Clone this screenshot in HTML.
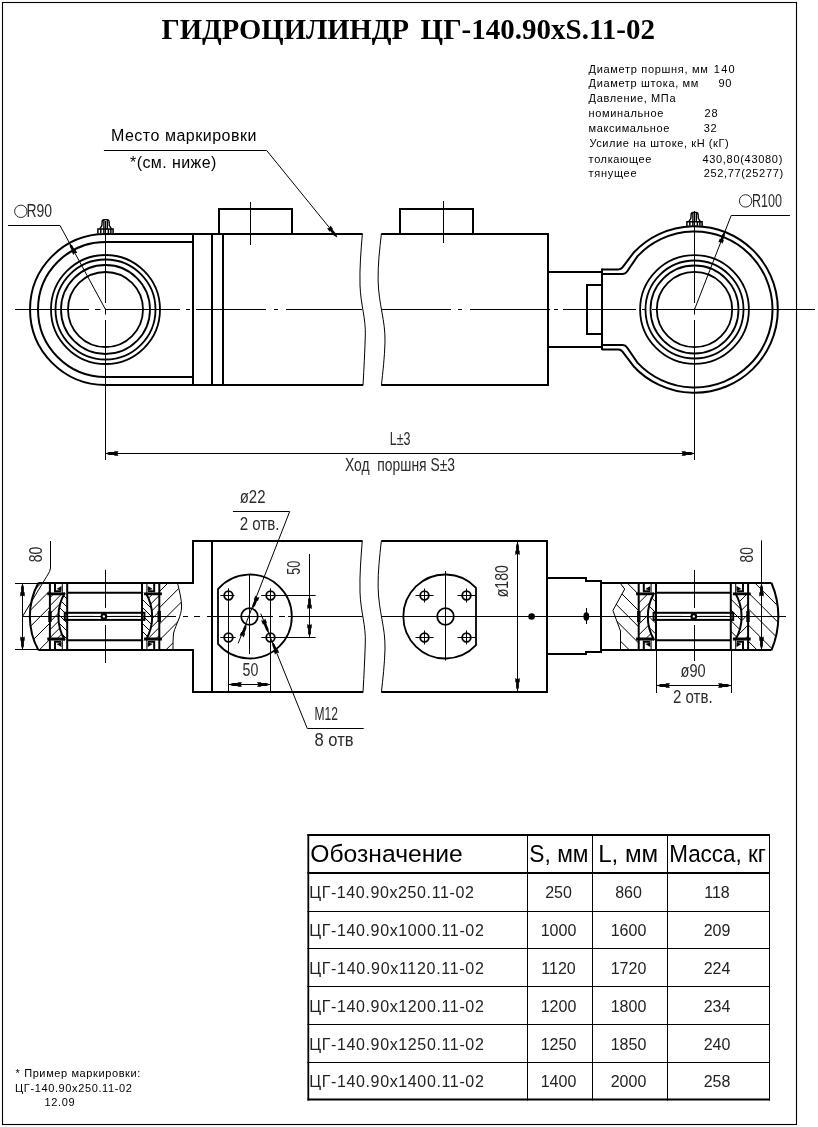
<!DOCTYPE html>
<html lang="ru">
<head>
<meta charset="utf-8">
<title>Гидроцилиндр ЦГ-140.90xS.11-02</title>
<style>
html,body{margin:0;padding:0;background:#fff;}
body{width:818px;height:1127px;overflow:hidden;font-family:"Liberation Sans",sans-serif;}
svg{display:block;position:absolute;left:0;top:0;will-change:transform;}
text{font-family:"Liberation Sans",sans-serif;fill:#000;}
.ttl{font-family:"Liberation Serif",serif;font-weight:bold;font-size:29px;}
.k{stroke:#000;stroke-width:2;fill:none;stroke-linecap:butt;stroke-linejoin:miter;}
.c{stroke:#000;stroke-width:1.8;fill:none;}
.n{stroke:#000;stroke-width:1;fill:none;}
.cl{stroke:#000;stroke-width:1;fill:none;}
.g{font-size:18px;fill:#2a2a2a;}
.sp{font-size:11px;}
.td{font-size:16px;fill:#222;}
.th{font-size:24.5px;}
.ar{fill:#000;stroke:none;}
</style>
</head>
<body>
<svg width="818" height="1127" viewBox="0 0 818 1127">
<rect x="0" y="0" width="818" height="1127" fill="#fff"/>
<!-- FRAME -->
<rect x="2.5" y="2.5" width="794" height="1122" fill="none" stroke="#000" stroke-width="1.1"/>

<!-- TITLE -->
<g id="title">
<text class="ttl" x="161.5" y="38.5" textLength="247.6" lengthAdjust="spacingAndGlyphs">ГИДРОЦИЛИНДР</text>
<text class="ttl" x="420.6" y="38.5" textLength="234.4" lengthAdjust="spacingAndGlyphs">ЦГ-140.90xS.11-02</text>
</g>

<!-- SPECS -->
<g id="specs">
<text class="sp" x="588.6" y="72.5" textLength="119.2" lengthAdjust="spacing">Диаметр поршня, мм</text>
<text class="sp" x="713.7" y="72.5" textLength="21" lengthAdjust="spacing">140</text>
<text class="sp" x="588.6" y="87.3" textLength="109.7" lengthAdjust="spacing">Диаметр штока, мм</text>
<text class="sp" x="718.5" y="87.3" textLength="12.9" lengthAdjust="spacing">90</text>
<text class="sp" x="588.6" y="102.0" textLength="86.9" lengthAdjust="spacing">Давление, МПа</text>
<text class="sp" x="588.6" y="116.9" textLength="74.8" lengthAdjust="spacing">номинальное</text>
<text class="sp" x="704.5" y="116.9" textLength="13.2" lengthAdjust="spacing">28</text>
<text class="sp" x="588.6" y="131.7" textLength="80.7" lengthAdjust="spacing">максимальное</text>
<text class="sp" x="703.7" y="131.7" textLength="12.9" lengthAdjust="spacing">32</text>
<text class="sp" x="589.4" y="147.0" textLength="139.3" lengthAdjust="spacing">Усилие на штоке, кН (кГ)</text>
<text class="sp" x="588.6" y="162.6" textLength="62.7" lengthAdjust="spacing">толкающее</text>
<text class="sp" x="702.4" y="162.6" textLength="79.9" lengthAdjust="spacing">430,80(43080)</text>
<text class="sp" x="588.6" y="177.4" textLength="47.9" lengthAdjust="spacing">тянущее</text>
<text class="sp" x="703.7" y="177.4" textLength="79.4" lengthAdjust="spacing">252,77(25277)</text>
</g>

<!-- MARKING LABEL -->
<g id="marklabel">
<text x="110.9" y="141.1" font-size="16" fill="#222" textLength="145.6" lengthAdjust="spacing">Место маркировки</text>
<text x="130" y="168.4" font-size="16" fill="#222" textLength="86.4" lengthAdjust="spacing">*(см. ниже)</text>
<path class="n" d="M103.9,150.5 H266.7 L337,237"/>
<path class="ar" d="M337.2,237.4 L336.0,233.7 L332.5,229.4 L333.1,228.9 L330.4,225.5 L329.5,228.0 L327.0,228.3 L329.7,231.7 L330.4,231.1 L333.8,235.4 Z"/>
</g>

<!-- TOP VIEW -->
<g id="topview">
<path class="cl" d="M15,309.5 H89 M95,309.5 H100.5 M105,309.5 H180 M186,309.5 H190 M196,309.5 H266 M274,309.5 H278 M286,309.5 H362 M381.5,309.5 H451 M458,309.5 H462 M470,309.5 H550 M554,309.5 H558 M563,309.5 H636 M642,309.5 H646 M652,309.5 H815"/>
<path class="cl" d="M105.5,221 V303 M105.5,308.5 V314.5 M105.5,320 V460 M694.5,211 V303 M694.5,308.5 V314.5 M694.5,320 V460"/>
<path class="cl" d="M250.5,202 V245 M443.5,201 V243"/>
<path class="k" d="M193,234 H105.5 A75.5,75.5 0 0 0 105.5,385 H193"/>
<path class="k" d="M193,242 H105.5 A67.5,67.5 0 0 0 105.5,377 H193"/>
<circle class="c" cx="105.5" cy="309.5" r="54.5"/>
<circle class="c" cx="105.5" cy="309.5" r="50"/>
<circle class="c" cx="105.5" cy="309.5" r="44.5"/>
<circle class="c" cx="105.5" cy="309.5" r="37.5"/>
<g id="nip" class="k">
<path stroke-width="1.5" d="M97.9,233.4 V228.9 H113.1 V233.4 M100.8,228.9 V233 M103.9,228.9 V233 M108.4,228.9 V233 M110.9,228.9 V233"/>
<path stroke-width="1.4" d="M99.8,228.9 L101.9,225.6 L102.1,221.8 Q102.3,219.6 103.9,219.6 H107.3 Q108.9,219.6 109.1,221.8 L109.3,225.6 L111.4,228.9 M103.9,220.2 V228.9 M107.3,220.2 V228.9"/>
</g>
<path class="k" d="M193,233 V386 M212,234 V385 M223,234 V385"/>
<path class="k" d="M192,234 H362.4 M192,385 H363"/>
<path class="k" d="M219,234 V209 M218,209 H293 M292,209 V234"/>
<path class="n" stroke-width="1.15" d="M362.4,233.5 C361,250 359.5,268 360,285 C360.6,305 366,318 365.3,336 C364.8,352 364,368 363,385.5"/>
<path class="n" stroke-width="1.15" d="M381.4,233.5 C379.6,250 377.8,265 378.1,280 C378.6,305 385.5,320 385,342 C384.6,358 382.8,372 381.4,385.5"/>
<path class="k" d="M381.4,234 H549 M548,234 V385 M549,385 H381.4"/>
<path class="k" d="M400,234 V209 M399,209 H474 M473,209 V234"/>
<path class="k" d="M548,272 H602 M548,347 H602"/>
<path class="k" d="M602,285 H587 M587,284 V335 M587,334 H602"/>
<path class="k" d="M602,268.5 V350"/>
<path class="k" stroke-width="1.9" d="M602,269.5 H618.3 Q620.9,269.5 622.5,267.4 L633.5,252.8 A83.3,83.3 0 1 1 633.5,366.2 L622.5,351.6 Q620.9,349.5 618.3,349.5 H602"/>
<path class="k" stroke-width="1.9" d="M602,274 H622.8 Q625.4,274 626.9,271.8 L637.4,256.4 A78,78 0 1 1 637.4,362.6 L626.9,347.2 Q625.4,345.0 622.8,345.0 H602"/>
<circle class="c" cx="694.5" cy="309.5" r="54.4"/>
<circle class="c" cx="694.5" cy="309.5" r="49"/>
<circle class="c" cx="694.5" cy="309.5" r="44"/>
<circle class="c" cx="694.5" cy="309.5" r="37.7"/>
<use href="#nip" transform="translate(589.0,-7.2)"/>
<path class="n" d="M8,225.5 H60 L105.5,309.5"/>
<path class="ar" d="M69.6,243.4 L69.9,246.9 L72.3,251.2 L71.6,251.6 L73.4,255.0 L74.8,252.9 L77.3,252.9 L75.4,249.5 L74.7,249.9 L72.3,245.6 Z"/>
<circle cx="20.8" cy="211.3" r="6.2" fill="none" stroke="#2a2a2a" stroke-width="1"/>
<text class="g" x="26.4" y="216.9" font-size="16.5" textLength="25.6" lengthAdjust="spacingAndGlyphs">R90</text>
<path class="n" d="M789.9,215.5 H731.2 L694.5,309.5"/>
<path class="ar" d="M724.8,231.8 L722.4,234.3 L720.6,238.9 L719.8,238.6 L718.4,242.2 L720.9,241.9 L722.5,243.8 L723.9,240.2 L723.1,239.9 L724.9,235.3 Z"/>
<circle cx="745.6" cy="200.9" r="6.2" fill="none" stroke="#2a2a2a" stroke-width="1"/>
<text class="g" x="752" y="206.8" font-size="16.5" textLength="30" lengthAdjust="spacingAndGlyphs">R100</text>
<path class="n" d="M105.5,453.5 H694.5"/>
<path class="ar" d="M105.5,453.5 L109.0,454.9 L114.3,454.9 L114.3,455.7 L118.5,455.7 L117.2,453.5 L118.5,451.3 L114.3,451.3 L114.3,452.1 L109.0,452.1 Z M694.5,453.5 L691.0,452.1 L685.7,452.1 L685.7,451.3 L681.5,451.3 L682.8,453.5 L681.5,455.7 L685.7,455.7 L685.7,454.9 L691.0,454.9 Z"/>
<text class="g" x="389.7" y="445" font-size="19" textLength="20.8" lengthAdjust="spacingAndGlyphs">L±3</text>
<text class="g" x="345" y="471.3" textLength="110" lengthAdjust="spacingAndGlyphs" xml:space="preserve">Ход  поршня S±3</text>
</g>

<!-- BOTTOM VIEW -->
<g id="bottomview">
<path class="cl" d="M22,616.5 H176 M183,616.5 H188 M194,616.5 H200 M207,616.5 H273 M279,616.5 H285 M288,616.5 H362.5 M381.5,616.5 H786"/>
<path class="cl" d="M105.5,569.8 V607.9 M105.5,624.9 V663 M694.5,570 V608 M694.5,625 V661"/>
<clipPath id="cbL"><path d="M38.3,583 A70.6,70.6 0 0 0 38.3,650 H49.89999999999999 V583 Z"/></clipPath>
<clipPath id="cbL2"><path d="M159.3,583 H177.5 C179.2,590 181.8,600 181.6,607 C181.4,616 176,624 173.6,633 C173,638 173,644 173,650 H159.3 Z"/></clipPath>
<path d="M28.00,596.40 L49.90,574.50 M28.00,612.60 L49.90,590.70 M28.00,628.80 L49.90,606.90 M28.00,645.00 L49.90,623.10 M28.00,661.20 L49.90,639.30" stroke="#000" stroke-width="1.0" fill="none" clip-path="url(#cbL)"/>
<path d="M159.30,591.70 L183.00,568.00 M159.30,607.90 L183.00,584.20 M159.30,624.10 L183.00,600.40 M159.30,640.30 L183.00,616.60 M159.30,656.50 L183.00,632.80 M159.30,672.70 L183.00,649.00" stroke="#000" stroke-width="1.0" fill="none" clip-path="url(#cbL2)"/>
<path class="n" d="M177.5,583 C179.2,590 181.8,600 181.6,607 C181.4,616 176,624 173.6,633 C173,638 173,644 173,650"/>
<path class="k" d="M38.3,583 H194 M38.3,650 H194"/>
<path class="k" stroke-width="1.9" d="M38.3,583 A70.6,70.6 0 0 0 38.3,650"/>
<clipPath id="coLa"><path d="M49.90,592.7 L64.89,592.7 A46.9,46.9 0 0 0 64.83,640.2 L49.90,640.2 Z"/></clipPath>
<clipPath id="ciLa"><path d="M67.20,592.7 L64.89,592.7 A46.9,46.9 0 0 0 64.83,640.2 L67.20,640.2 Z"/></clipPath>
<clipPath id="coRa"><path d="M159.30,592.7 L145.71,592.7 A46.9,46.9 0 0 1 145.77,640.2 L159.30,640.2 Z"/></clipPath>
<clipPath id="ciRa"><path d="M142.00,592.7 L145.71,592.7 A46.9,46.9 0 0 1 145.77,640.2 L142.00,640.2 Z"/></clipPath>
<path d="M49.90,597.80 L67.20,580.50 M49.90,605.80 L67.20,588.50 M49.90,613.80 L67.20,596.50 M49.90,621.80 L67.20,604.50 M49.90,629.80 L67.20,612.50 M49.90,637.80 L67.20,620.50 M49.90,645.80 L67.20,628.50 M49.90,653.80 L67.20,636.50" stroke="#000" stroke-width="1.0" fill="none" clip-path="url(#coLa)"/>
<path d="M49.90,637.90 L67.20,655.20 M49.90,629.90 L67.20,647.20 M49.90,621.90 L67.20,639.20 M49.90,613.90 L67.20,631.20 M49.90,605.90 L67.20,623.20 M49.90,597.90 L67.20,615.20 M49.90,589.90 L67.20,607.20 M49.90,581.90 L67.20,599.20" stroke="#000" stroke-width="1.0" fill="none" clip-path="url(#ciLa)"/>
<path d="M142.00,596.70 L159.30,579.40 M142.00,604.70 L159.30,587.40 M142.00,612.70 L159.30,595.40 M142.00,620.70 L159.30,603.40 M142.00,628.70 L159.30,611.40 M142.00,636.70 L159.30,619.40 M142.00,644.70 L159.30,627.40 M142.00,652.70 L159.30,635.40" stroke="#000" stroke-width="1.0" fill="none" clip-path="url(#coRa)"/>
<path d="M142.00,639.00 L159.30,656.30 M142.00,631.00 L159.30,648.30 M142.00,623.00 L159.30,640.30 M142.00,615.00 L159.30,632.30 M142.00,607.00 L159.30,624.30 M142.00,599.00 L159.30,616.30 M142.00,591.00 L159.30,608.30 M142.00,583.00 L159.30,600.30" stroke="#000" stroke-width="1.0" fill="none" clip-path="url(#ciRa)"/>
<path class="k" stroke-width="1.9" d="M49.90,583 V650 M159.30,583 V650 M67.20,583 V650 M142.00,583 V650"/>
<path class="k" stroke-width="1.5" d="M64.89,592.7 A46.9,46.9 0 0 0 64.83,640.2 M145.71,592.7 A46.9,46.9 0 0 1 145.77,640.2"/>
<path class="k" stroke-width="1.8" d="M67.20,592.7 H142.00 M67.20,640.2 H142.00"/>
<path d="M47.30,592.40 H65.10 V595.30 H47.30 Z M47.30,640.50 H65.10 V637.60 H47.30 Z M161.90,592.40 H144.10 V595.30 H161.90 Z M161.90,640.50 H144.10 V637.60 H161.90 Z" fill="#000"/>
<path class="k" stroke-width="1.5" d="M55.00,583 V591.20 H61.20"/>
<path class="n" d="M62.30,583 V592.80"/>
<path d="M56.50,589.00 L61.50,586.00 L61.50,590.70 Z" fill="#000"/>
<path class="k" stroke-width="1.5" d="M55.00,650 V641.80 H61.20"/>
<path class="n" d="M62.30,650 V640.20"/>
<path d="M56.50,644.00 L61.50,647.00 L61.50,642.30 Z" fill="#000"/>
<path class="k" stroke-width="1.5" d="M154.20,583 V591.20 H148.00"/>
<path class="n" d="M146.90,583 V592.80"/>
<path d="M152.70,589.00 L147.70,586.00 L147.70,590.70 Z" fill="#000"/>
<path class="k" stroke-width="1.5" d="M154.20,650 V641.80 H148.00"/>
<path class="n" d="M146.90,650 V640.20"/>
<path d="M152.70,644.00 L147.70,647.00 L147.70,642.30 Z" fill="#000"/>
<rect class="k" x="64.80" y="612.8" width="79.6" height="7.1" fill="#fff" stroke-width="1.7"/>
<path class="n" d="M71.20,616.4 H93.60 M110.60,616.4 H138.00" stroke-width="0.9"/>
<circle cx="103.90" cy="616.4" r="2.3" fill="#fff" stroke="#000" stroke-width="2.2"/>
<rect x="48.30" y="611" width="3.4" height="11" fill="#000"/><rect x="157.50" y="611" width="3.4" height="11" fill="#000"/>
<path class="n" d="M15,583.5 H38.3 M15,649.5 H38.3 M22.5,583 V650 M22.5,616.5 L46.6,576.6 Q50.5,571 50.5,568 V541"/>
<path class="ar" d="M22.5,583.5 L21.1,587.0 L21.1,592.3 L20.3,592.3 L20.3,596.5 L22.5,595.2 L24.7,596.5 L24.7,592.3 L23.9,592.3 L23.9,587.0 Z M22.5,649.5 L23.9,646.0 L23.9,640.7 L24.7,640.7 L24.7,636.5 L22.5,637.8 L20.3,636.5 L20.3,640.7 L21.1,640.7 L21.1,646.0 Z"/>
<text class="g" font-size="17" transform="translate(42.4,562.3) rotate(-90)" textLength="15.5" lengthAdjust="spacingAndGlyphs">80</text>
<path class="k" d="M193,584 V540 M192,541 H362.3 M193,649 V693 M192,692 H363 M212,541 V692"/>
<path class="n" stroke-width="1.15" d="M362.3,540.5 C361,557 359.5,575 360,592 C360.6,612 366,625 365.3,643 C364.8,659 364,675 363,692.5"/>
<path class="n" stroke-width="1.15" d="M381.4,540.5 C379.6,557 377.8,572 378.1,587 C378.6,612 385.5,627 385,649 C384.6,665 382.8,679 381.4,692.5"/>
<path class="k" d="M381.4,541 H548 M547,540 V693 M548,692 H381.4"/>
<path class="c" d="M218,589.1 A42,42 0 1 1 218,643.9 Z"/>
<circle class="c" cx="228.5" cy="595.5" r="4.3"/>
<circle class="c" cx="270.5" cy="595.5" r="4.3"/>
<circle class="c" cx="228.5" cy="637.5" r="4.3"/>
<circle class="c" cx="270.5" cy="637.5" r="4.3"/>
<circle class="c" cx="249.5" cy="616.5" r="8.3"/>
<path class="cl" d="M249.5,574.8 V654 M228.5,588.3 V691 M270.5,588.3 V691 M220.3,595.5 H234.5 M261.3,595.5 H315.6 M220.3,637.5 H235.7 M261.3,637.5 H315.6"/>
<path class="n" d="M228.5,684.5 H270.5"/>
<path class="ar" d="M229.0,684.5 L232.5,685.9 L237.8,685.9 L237.8,686.7 L242.0,686.7 L240.7,684.5 L242.0,682.3 L237.8,682.3 L237.8,683.1 L232.5,683.1 Z M270.0,684.5 L266.5,683.1 L261.2,683.1 L261.2,682.3 L257.0,682.3 L258.3,684.5 L257.0,686.7 L261.2,686.7 L261.2,685.9 L266.5,685.9 Z"/>
<text class="g" font-size="16.5" x="242.6" y="676" textLength="15.8" lengthAdjust="spacingAndGlyphs">50</text>
<path class="n" d="M309.5,554 V637.5"/>
<path class="ar" d="M309.5,596.0 L308.1,599.5 L308.1,604.8 L307.3,604.8 L307.3,609.0 L309.5,607.7 L311.7,609.0 L311.7,604.8 L310.9,604.8 L310.9,599.5 Z M309.5,637.0 L310.9,633.5 L310.9,628.2 L311.7,628.2 L311.7,624.0 L309.5,625.3 L307.3,624.0 L307.3,628.2 L308.1,628.2 L308.1,633.5 Z"/>
<text class="g" font-size="16.5" transform="translate(299.7,574.7) rotate(-90)" textLength="14" lengthAdjust="spacingAndGlyphs">50</text>
<path class="n" d="M233,511.5 H289.7 L238.2,643.3"/>
<path class="ar" d="M252.6,608.5 L255.1,605.7 L257.1,600.7 L257.9,601.0 L259.4,597.2 L256.8,597.6 L255.3,595.6 L253.8,599.4 L254.5,599.7 L252.6,604.7 Z M246.4,624.5 L243.9,627.3 L241.9,632.3 L241.1,632.0 L239.6,635.8 L242.2,635.4 L243.7,637.4 L245.2,633.6 L244.5,633.3 L246.4,628.3 Z"/>
<text class="g" font-size="16.5" x="239.7" y="502.9" textLength="25.8" lengthAdjust="spacingAndGlyphs">ø22</text>
<text class="g" font-size="16.5" x="239.7" y="529.8" textLength="39.8" lengthAdjust="spacingAndGlyphs">2 отв.</text>
<path class="n" d="M260.8,613.7 L307.3,728.5 H363.7"/>
<path class="ar" d="M268.8,633.2 L268.5,629.0 L266.2,623.3 L267.0,623.0 L265.2,618.5 L263.7,620.7 L261.1,620.2 L262.9,624.6 L263.7,624.3 L266.0,630.0 Z M272.2,641.8 L272.3,645.5 L274.3,650.5 L273.5,650.8 L275.1,654.6 L276.6,652.6 L279.2,653.0 L277.6,649.1 L276.8,649.4 L274.8,644.5 Z"/>
<text class="g" font-size="17" x="314.5" y="720" textLength="23.5" lengthAdjust="spacingAndGlyphs">M12</text>
<text class="g" font-size="17" x="314.5" y="746" textLength="39" lengthAdjust="spacingAndGlyphs">8 отв</text>
<path class="c" d="M476,587.8 A42,42 0 1 0 476,645.2 Z"/>
<circle class="c" cx="424.5" cy="595.5" r="4.3"/>
<path class="cl" d="M415.5,595.5 H433.5 M424.5,588.5 V602.5"/>
<circle class="c" cx="466.5" cy="595.5" r="4.3"/>
<path class="cl" d="M457.5,595.5 H475.5 M466.5,588.5 V602.5"/>
<circle class="c" cx="424.5" cy="637.5" r="4.3"/>
<path class="cl" d="M415.5,637.5 H433.5 M424.5,630.5 V644.5"/>
<circle class="c" cx="466.5" cy="637.5" r="4.3"/>
<path class="cl" d="M457.5,637.5 H475.5 M466.5,630.5 V644.5"/>
<circle class="c" cx="445.5" cy="616.5" r="8.3"/>
<path class="cl" d="M445.5,571 V660.6"/>
<path class="n" d="M517.5,541 V692"/>
<path class="ar" d="M517.5,542.0 L516.1,545.5 L516.1,550.8 L515.3,550.8 L515.3,555.0 L517.5,553.7 L519.7,555.0 L519.7,550.8 L518.9,550.8 L518.9,545.5 Z M517.5,691.0 L518.9,687.5 L518.9,682.2 L519.7,682.2 L519.7,678.0 L517.5,679.3 L515.3,678.0 L515.3,682.2 L516.1,682.2 L516.1,687.5 Z"/>
<text class="g" font-size="17" transform="translate(508.3,597.3) rotate(-90)" textLength="32.3" lengthAdjust="spacingAndGlyphs">ø180</text>
<circle cx="531.6" cy="616.5" r="3.3" fill="#000"/>
<ellipse cx="586.3" cy="616.5" rx="2.9" ry="4.2" fill="#000"/><path class="n" d="M586.5,608 V624"/>
<path class="k" d="M547,578 H586 V581 H602 M601,580 V653 M602,652 H586 V654 H547"/>
<clipPath id="cbR"><path d="M620,583 L624.7,589 L612.9,610.5 L620.5,631 V650 H638.6999999999999 V583 Z"/></clipPath>
<clipPath id="cbR2"><path d="M748.1,583 H771.5 A85.4,85.4 0 0 1 771.5,650 H748.1 Z"/></clipPath>
<path d="M610.00,646.80 L638.70,675.50 M610.00,630.60 L638.70,659.30 M610.00,614.40 L638.70,643.10 M610.00,598.20 L638.70,626.90 M610.00,582.00 L638.70,610.70 M610.00,565.80 L638.70,594.50" stroke="#000" stroke-width="1.0" fill="none" clip-path="url(#cbR)"/>
<path d="M748.10,641.00 L781.00,673.90 M748.10,624.80 L781.00,657.70 M748.10,608.60 L781.00,641.50 M748.10,592.40 L781.00,625.30 M748.10,576.20 L781.00,609.10 M748.10,560.00 L781.00,592.90" stroke="#000" stroke-width="1.0" fill="none" clip-path="url(#cbR2)"/>
<path class="n" d="M620,583 L624.7,589 L612.9,610.5 L620.5,631 V650"/>
<path class="k" d="M601,583 H771.5 M601,650 H771.5"/>
<path class="k" stroke-width="1.9" d="M771.5,583 A85.4,85.4 0 0 1 771.5,650"/>
<clipPath id="coLb"><path d="M638.70,592.7 L654.29,592.7 A46.9,46.9 0 0 0 654.23,640.2 L638.70,640.2 Z"/></clipPath>
<clipPath id="ciLb"><path d="M656.00,592.7 L654.29,592.7 A46.9,46.9 0 0 0 654.23,640.2 L656.00,640.2 Z"/></clipPath>
<clipPath id="coRb"><path d="M748.10,592.7 L735.11,592.7 A46.9,46.9 0 0 1 735.17,640.2 L748.10,640.2 Z"/></clipPath>
<clipPath id="ciRb"><path d="M730.80,592.7 L735.11,592.7 A46.9,46.9 0 0 1 735.17,640.2 L730.80,640.2 Z"/></clipPath>
<path d="M638.70,603.00 L656.00,585.70 M638.70,613.70 L656.00,596.40 M638.70,624.40 L656.00,607.10 M638.70,635.10 L656.00,617.80 M638.70,645.80 L656.00,628.50 M638.70,656.50 L656.00,639.20" stroke="#000" stroke-width="1.0" fill="none" clip-path="url(#coLb)"/>
<path d="M638.70,638.40 L656.00,655.70 M638.70,627.70 L656.00,645.00 M638.70,617.00 L656.00,634.30 M638.70,606.30 L656.00,623.60 M638.70,595.60 L656.00,612.90 M638.70,584.90 L656.00,602.20" stroke="#000" stroke-width="1.0" fill="none" clip-path="url(#ciLb)"/>
<path d="M730.80,599.50 L748.10,582.20 M730.80,610.20 L748.10,592.90 M730.80,620.90 L748.10,603.60 M730.80,631.60 L748.10,614.30 M730.80,642.30 L748.10,625.00 M730.80,653.00 L748.10,635.70" stroke="#000" stroke-width="1.0" fill="none" clip-path="url(#coRb)"/>
<path d="M730.80,631.20 L748.10,648.50 M730.80,620.50 L748.10,637.80 M730.80,609.80 L748.10,627.10 M730.80,599.10 L748.10,616.40 M730.80,588.40 L748.10,605.70 M730.80,577.70 L748.10,595.00" stroke="#000" stroke-width="1.0" fill="none" clip-path="url(#ciRb)"/>
<path class="k" stroke-width="1.9" d="M638.70,583 V650 M748.10,583 V650 M656.00,583 V650 M730.80,583 V650"/>
<path class="k" stroke-width="1.5" d="M654.29,592.7 A46.9,46.9 0 0 0 654.23,640.2 M735.11,592.7 A46.9,46.9 0 0 1 735.17,640.2"/>
<path class="k" stroke-width="1.8" d="M656.00,592.7 H730.80 M656.00,640.2 H730.80"/>
<path d="M636.10,592.40 H653.90 V595.30 H636.10 Z M636.10,640.50 H653.90 V637.60 H636.10 Z M750.70,592.40 H732.90 V595.30 H750.70 Z M750.70,640.50 H732.90 V637.60 H750.70 Z" fill="#000"/>
<path class="k" stroke-width="1.5" d="M643.80,583 V591.20 H650.00"/>
<path class="n" d="M651.10,583 V592.80"/>
<path d="M645.30,589.00 L650.30,586.00 L650.30,590.70 Z" fill="#000"/>
<path class="k" stroke-width="1.5" d="M643.80,650 V641.80 H650.00"/>
<path class="n" d="M651.10,650 V640.20"/>
<path d="M645.30,644.00 L650.30,647.00 L650.30,642.30 Z" fill="#000"/>
<path class="k" stroke-width="1.5" d="M743.00,583 V591.20 H736.80"/>
<path class="n" d="M735.70,583 V592.80"/>
<path d="M741.50,589.00 L736.50,586.00 L736.50,590.70 Z" fill="#000"/>
<path class="k" stroke-width="1.5" d="M743.00,650 V641.80 H736.80"/>
<path class="n" d="M735.70,650 V640.20"/>
<path d="M741.50,644.00 L736.50,647.00 L736.50,642.30 Z" fill="#000"/>
<rect class="k" x="653.60" y="612.8" width="79.6" height="7.1" fill="#fff" stroke-width="1.7"/>
<path class="n" d="M660.00,616.4 H682.40 M699.40,616.4 H726.80" stroke-width="0.9"/>
<circle cx="693.80" cy="616.4" r="2.3" fill="#fff" stroke="#000" stroke-width="2.2"/>
<rect x="637.10" y="611" width="3.4" height="11" fill="#000"/><rect x="746.30" y="611" width="3.4" height="11" fill="#000"/>
<path class="n" d="M761.5,540.4 V650"/>
<path class="ar" d="M761.5,583.5 L760.1,587.0 L760.1,592.3 L759.3,592.3 L759.3,596.5 L761.5,595.2 L763.7,596.5 L763.7,592.3 L762.9,592.3 L762.9,587.0 Z M761.5,649.5 L762.9,646.0 L762.9,640.7 L763.7,640.7 L763.7,636.5 L761.5,637.8 L759.3,636.5 L759.3,640.7 L760.1,640.7 L760.1,646.0 Z"/>
<text class="g" font-size="17" transform="translate(753,562.5) rotate(-90)" textLength="15.3" lengthAdjust="spacingAndGlyphs">80</text>
<path class="n" d="M656.5,650 V693 M731.5,650 V693 M656.5,685.5 H731.5"/>
<path class="ar" d="M657.0,685.5 L660.5,686.9 L665.8,686.9 L665.8,687.7 L670.0,687.7 L668.7,685.5 L670.0,683.3 L665.8,683.3 L665.8,684.1 L660.5,684.1 Z M731.0,685.5 L727.5,684.1 L722.2,684.1 L722.2,683.3 L718.0,683.3 L719.3,685.5 L718.0,687.7 L722.2,687.7 L722.2,686.9 L727.5,686.9 Z"/>
<text class="g" font-size="17" x="680.6" y="677" textLength="25.1" lengthAdjust="spacingAndGlyphs">ø90</text>
<text class="g" font-size="17" x="673" y="702.5" textLength="39.6" lengthAdjust="spacingAndGlyphs">2 отв.</text>
</g>

<!-- TABLE -->
<g id="table">
<line x1="307.4" y1="835" x2="770" y2="835" stroke="#000" stroke-width="2"/>
<line x1="307.4" y1="873" x2="770" y2="873" stroke="#000" stroke-width="2"/>
<line x1="307.4" y1="911.5" x2="770" y2="911.5" stroke="#000" stroke-width="1"/>
<line x1="307.4" y1="948.5" x2="770" y2="948.5" stroke="#000" stroke-width="1"/>
<line x1="307.4" y1="986.5" x2="770" y2="986.5" stroke="#000" stroke-width="1"/>
<line x1="307.4" y1="1024.5" x2="770" y2="1024.5" stroke="#000" stroke-width="1"/>
<line x1="307.4" y1="1062.5" x2="770" y2="1062.5" stroke="#000" stroke-width="1"/>
<line x1="307.4" y1="1099.6" x2="770" y2="1099.6" stroke="#000" stroke-width="2"/>
<line x1="308.3" y1="834" x2="308.3" y2="1100.6" stroke="#000" stroke-width="1.8"/>
<line x1="527.5" y1="834" x2="527.5" y2="1100.6" stroke="#000" stroke-width="1"/>
<line x1="592.5" y1="834" x2="592.5" y2="1100.6" stroke="#000" stroke-width="1"/>
<line x1="667.5" y1="834" x2="667.5" y2="1100.6" stroke="#000" stroke-width="1"/>
<line x1="769.5" y1="834" x2="769.5" y2="1100.6" stroke="#000" stroke-width="1"/>
<text class="th" x="310.3" y="862.3" textLength="152.5" lengthAdjust="spacingAndGlyphs">Обозначение</text>
<text class="th" x="529.3" y="862.3" textLength="59.2" lengthAdjust="spacingAndGlyphs">S, мм</text>
<text class="th" x="598.2" y="862.3" textLength="60" lengthAdjust="spacingAndGlyphs">L, мм</text>
<text class="th" x="669.2" y="862.3" textLength="96.8" lengthAdjust="spacingAndGlyphs">Масса, кг</text>
<text class="td" x="309.2" y="898.0" textLength="164.6" lengthAdjust="spacing">ЦГ-140.90x250.11-02</text>
<text class="td" x="558.5" y="898.0" text-anchor="middle">250</text>
<text class="td" x="628.5" y="898.0" text-anchor="middle">860</text>
<text class="td" x="717" y="898.0" text-anchor="middle">118</text>
<text class="td" x="309.2" y="935.6" textLength="174.6" lengthAdjust="spacing">ЦГ-140.90x1000.11-02</text>
<text class="td" x="558.5" y="935.6" text-anchor="middle">1000</text>
<text class="td" x="628.5" y="935.6" text-anchor="middle">1600</text>
<text class="td" x="717" y="935.6" text-anchor="middle">209</text>
<text class="td" x="309.2" y="973.9" textLength="174.6" lengthAdjust="spacing">ЦГ-140.90x1120.11-02</text>
<text class="td" x="558.5" y="973.9" text-anchor="middle">1120</text>
<text class="td" x="628.5" y="973.9" text-anchor="middle">1720</text>
<text class="td" x="717" y="973.9" text-anchor="middle">224</text>
<text class="td" x="309.2" y="1012.0" textLength="174.6" lengthAdjust="spacing">ЦГ-140.90x1200.11-02</text>
<text class="td" x="558.5" y="1012.0" text-anchor="middle">1200</text>
<text class="td" x="628.5" y="1012.0" text-anchor="middle">1800</text>
<text class="td" x="717" y="1012.0" text-anchor="middle">234</text>
<text class="td" x="309.2" y="1049.8" textLength="174.6" lengthAdjust="spacing">ЦГ-140.90x1250.11-02</text>
<text class="td" x="558.5" y="1049.8" text-anchor="middle">1250</text>
<text class="td" x="628.5" y="1049.8" text-anchor="middle">1850</text>
<text class="td" x="717" y="1049.8" text-anchor="middle">240</text>
<text class="td" x="309.2" y="1086.7" textLength="174.6" lengthAdjust="spacing">ЦГ-140.90x1400.11-02</text>
<text class="td" x="558.5" y="1086.7" text-anchor="middle">1400</text>
<text class="td" x="628.5" y="1086.7" text-anchor="middle">2000</text>
<text class="td" x="717" y="1086.7" text-anchor="middle">258</text>
</g>

<!-- FOOTNOTE -->
<g id="foot">
<text class="sp" x="15.6" y="1077.4" textLength="124.7" lengthAdjust="spacing">* Пример маркировки:</text>
<text class="sp" x="15.1" y="1091.5" textLength="116.8" lengthAdjust="spacing">ЦГ-140.90x250.11-02</text>
<text class="sp" x="44.4" y="1106.2" textLength="30.3" lengthAdjust="spacing">12.09</text>
</g>
</svg>
</body>
</html>
